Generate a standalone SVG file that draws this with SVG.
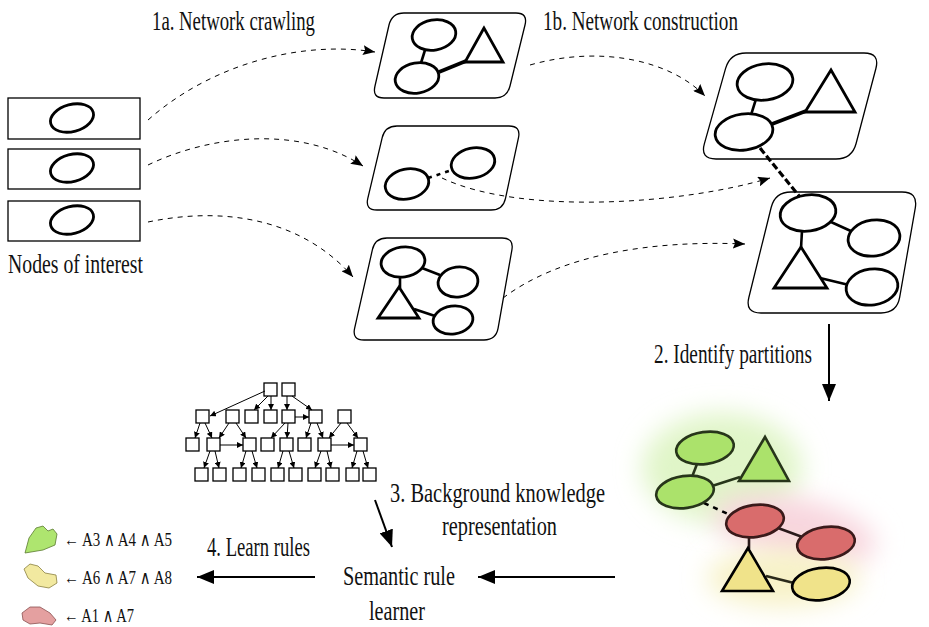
<svg xmlns="http://www.w3.org/2000/svg" width="929" height="627" viewBox="0 0 929 627">
<style>
.t{font-family:"Liberation Serif","DejaVu Serif",serif;font-size:27px;fill:#111}
.lg{font-family:"Liberation Serif","DejaVu Serif",serif;font-size:19px;fill:#111}
.card{fill:#fff;stroke:#000;stroke-width:1.3}
.nd{fill:#fff;stroke:#000;stroke-width:2.8}
.ln{stroke:#000;stroke-width:2.6;fill:none}
.lnb{stroke:#000;stroke-width:3.6;fill:none}
.dash{fill:none;stroke:#000;stroke-width:1;stroke-dasharray:5 5}
.box{fill:#fff;stroke:#000;stroke-width:1.3}
.ta{stroke:#000;stroke-width:1;fill:none;marker-end:url(#sm)}
.big{stroke:#000;stroke-width:2;fill:none;marker-end:url(#bg)}
.gn{fill:#abe26b;stroke:#27351a;stroke-width:2.6}
.rd{fill:#d96c6c;stroke:#3a1a1a;stroke-width:2.6}
.yl{fill:#f0e38a;stroke:#000;stroke-width:2.6}
</style>
<defs>
<marker id="dh" markerUnits="userSpaceOnUse" markerWidth="13" markerHeight="10" refX="12" refY="5" orient="auto"><path d="M0,0 L12,5 L0,10 L2,5 Z" fill="#000"/></marker>
<marker id="bg" markerUnits="userSpaceOnUse" markerWidth="18" markerHeight="14" refX="17" refY="7" orient="auto"><path d="M0,0 L17,7 L0,14 Z" fill="#000"/></marker>
<marker id="sm" markerUnits="userSpaceOnUse" markerWidth="7" markerHeight="6" refX="6" refY="3" orient="auto"><path d="M0,0 L6,3 L0,6 Z" fill="#000"/></marker>
<filter id="blur" x="-60%" y="-60%" width="220%" height="220%"><feGaussianBlur stdDeviation="13"/></filter>
</defs>

<g id="nodes-of-interest">
<rect class="box" x="8" y="98" width="132" height="41" stroke-width="2.5"/>
<ellipse class="nd" cx="72" cy="118" rx="22" ry="13.5" transform="rotate(-15 72 118)"/>
<rect class="box" x="8" y="149" width="132" height="40" stroke-width="2.5"/>
<ellipse class="nd" cx="72" cy="168" rx="22" ry="13.5" transform="rotate(-15 72 168)"/>
<rect class="box" x="8" y="201" width="132" height="40" stroke-width="2.5"/>
<ellipse class="nd" cx="72" cy="220" rx="22" ry="13.5" transform="rotate(-15 72 220)"/>
<text class="t" x="8" y="273" textLength="135" lengthAdjust="spacingAndGlyphs">Nodes of interest</text>
</g>

<g id="crawl-1">
<path class="card" d="M404,13 L516,13 Q528,13 525,25 L510,86 Q507,98 495,98 L384,98 Q372,98 375,86 L389,25 Q392,13 404,13 Z"/>
<line class="ln" x1="425" y1="50" x2="421" y2="63"/>
<line class="lnb" x1="439" y1="72" x2="466" y2="61"/>
<ellipse class="nd" cx="434" cy="35" rx="22" ry="15" transform="rotate(-10 434 35)"/>
<ellipse class="nd" cx="417" cy="78" rx="22" ry="15" transform="rotate(-10 417 78)"/>
<polygon class="nd" points="484,28 465,62 503,62"/>
</g>

<g id="crawl-2">
<path class="card" d="M397,126 L509,126 Q521,126 518.5,137.7 L505.5,198.3 Q503,210 491,210 L377,210 Q365,210 367.8,198.3 L382.2,137.7 Q385,126 397,126 Z"/>
<line x1="428" y1="178" x2="452" y2="170" stroke="#000" stroke-width="2.6" stroke-dasharray="4 5"/>
<ellipse class="nd" cx="407" cy="184" rx="22" ry="15" transform="rotate(-12 407 184)"/>
<ellipse class="nd" cx="473" cy="163" rx="22" ry="15" transform="rotate(-12 473 163)"/>
</g>

<g id="crawl-3">
<path class="card" d="M387,238 L502,238 Q514,238 511.9,249.8 L498.1,328.2 Q496,340 484,340 L364,340 Q352,340 354.6,328.3 L372.4,249.7 Q375,238 387,238 Z"/>
<line class="ln" x1="400" y1="276" x2="400" y2="288"/>
<line class="ln" x1="422" y1="268" x2="440" y2="275"/>
<line class="ln" x1="414" y1="309" x2="435" y2="316"/>
<ellipse class="nd" cx="403" cy="262" rx="22" ry="15" transform="rotate(-8 403 262)"/>
<ellipse class="nd" cx="458" cy="282" rx="20" ry="15" transform="rotate(-8 458 282)"/>
<ellipse class="nd" cx="453" cy="320" rx="20" ry="14" transform="rotate(-8 453 320)"/>
<polygon class="nd" points="399,287 378,318 419,318"/>
</g>

<g id="network-1">
<path class="card" d="M746,53 L864,53 Q880,53 875.9,68.5 L856.1,143.5 Q852,159 836,159 L716,159 Q700,159 704.4,143.6 L725.6,68.4 Q730,53 746,53 Z"/>
<line class="ln" x1="756" y1="99" x2="751" y2="115"/>
<line class="lnb" x1="772" y1="124" x2="806" y2="111"/>
<ellipse class="nd" cx="765" cy="82" rx="28" ry="18" transform="rotate(-8 765 82)"/>
<ellipse class="nd" cx="744" cy="132" rx="29" ry="18" transform="rotate(-8 744 132)"/>
<polygon class="nd" points="831,70 805,112 855,112"/>
</g>

<g id="network-2">
<path class="card" d="M791,192 L902,192 Q918,192 915.3,207.8 L899.7,297.2 Q897,313 881,313 L761,313 Q745,313 748.85,297.5 L771.15,207.5 Q775,192 791,192 Z"/>
<line class="ln" x1="802" y1="231" x2="801" y2="248"/>
<line class="ln" x1="831" y1="222" x2="853" y2="232"/>
<line class="ln" x1="820" y1="278" x2="849" y2="285"/>
<ellipse class="nd" cx="808" cy="213" rx="28" ry="18" transform="rotate(-8 808 213)"/>
<ellipse class="nd" cx="874" cy="238" rx="26" ry="18" transform="rotate(-8 874 238)"/>
<ellipse class="nd" cx="872" cy="287" rx="26" ry="18" transform="rotate(-8 872 287)"/>
<polygon class="nd" points="801,247 774,288 827,288"/>
</g>

<g id="partitions">
<ellipse cx="722" cy="468" rx="80" ry="55" fill="#e0f5c8" filter="url(#blur)"/>
<ellipse cx="795" cy="530" rx="82" ry="32" fill="#f8d6de" filter="url(#blur)" transform="rotate(12 795 530)"/>
<ellipse cx="783" cy="578" rx="76" ry="29" fill="#f7f2c8" filter="url(#blur)"/>
<line x1="697" y1="464" x2="692" y2="477" stroke="#27351a" stroke-width="2.6"/>
<line x1="712" y1="486" x2="740" y2="477" stroke="#27351a" stroke-width="2.6"/>
<line x1="704" y1="503" x2="728" y2="514" stroke="#000" stroke-width="2.6" stroke-dasharray="5 5"/>
<line x1="778" y1="528" x2="805" y2="538" stroke="#2a1a1a" stroke-width="2.6"/>
<line x1="749" y1="536" x2="749" y2="549" stroke="#2a1a1a" stroke-width="2.6"/>
<line x1="766" y1="576" x2="794" y2="583" stroke="#2a2a1a" stroke-width="2.6"/>
<ellipse class="gn" cx="705" cy="448" rx="29" ry="16" transform="rotate(-8 705 448)"/>
<ellipse class="gn" cx="685" cy="492" rx="29" ry="16" transform="rotate(-8 685 492)"/>
<polygon class="gn" points="765,437 739,481 789,481"/>
<ellipse class="rd" cx="755" cy="521" rx="29" ry="16" transform="rotate(-8 755 521)"/>
<ellipse class="rd" cx="826" cy="543" rx="29" ry="16" transform="rotate(-8 826 543)"/>
<polygon class="yl" points="748,548 722,591 773,591"/>
<ellipse class="yl" cx="821" cy="584" rx="29" ry="16" stroke="#2a2a1a" transform="rotate(-8 821 584)"/>
</g>

<g id="background-knowledge">
<g class="tree">
<rect class="box" x="264" y="383" width="13" height="13"/><rect class="box" x="282" y="383" width="13" height="13"/>
<rect class="box" x="196" y="410" width="13" height="13"/><rect class="box" x="226" y="410" width="13" height="13"/><rect class="box" x="245" y="410" width="13" height="13"/><rect class="box" x="264" y="410" width="13" height="13"/><rect class="box" x="282" y="410" width="13" height="13"/><rect class="box" x="309" y="410" width="13" height="13"/><rect class="box" x="338" y="410" width="13" height="13"/>
<rect class="box" x="186" y="438" width="13" height="13"/><rect class="box" x="207" y="438" width="13" height="13"/><rect class="box" x="243" y="438" width="13" height="13"/><rect class="box" x="261" y="438" width="13" height="13"/><rect class="box" x="280" y="438" width="13" height="13"/><rect class="box" x="298" y="438" width="13" height="13"/><rect class="box" x="318" y="438" width="13" height="13"/><rect class="box" x="354" y="438" width="13" height="13"/>
<rect class="box" x="195" y="468" width="13" height="13"/><rect class="box" x="213" y="468" width="13" height="13"/><rect class="box" x="233" y="468" width="13" height="13"/><rect class="box" x="252" y="468" width="13" height="13"/><rect class="box" x="271" y="468" width="13" height="13"/><rect class="box" x="289" y="468" width="13" height="13"/><rect class="box" x="308" y="468" width="13" height="13"/><rect class="box" x="326" y="468" width="13" height="13"/><rect class="box" x="346" y="468" width="13" height="13"/><rect class="box" x="363" y="468" width="13" height="13"/>
</g>
<g class="tree-arrows">
<line class="ta" x1="265" y1="391" x2="210" y2="416"/>
<line class="ta" x1="268" y1="396" x2="254" y2="410"/>
<line class="ta" x1="271" y1="396" x2="271" y2="410"/>
<line class="ta" x1="287" y1="396" x2="287" y2="410"/>
<line class="ta" x1="292" y1="396" x2="312" y2="410"/>
<line class="ta" x1="295" y1="417" x2="309" y2="417"/>
<line class="ta" x1="200" y1="423" x2="195" y2="438"/>
<line class="ta" x1="205" y1="423" x2="212" y2="438"/>
<line class="ta" x1="229" y1="423" x2="219" y2="438"/>
<line class="ta" x1="236" y1="423" x2="246" y2="438"/>
<line class="ta" x1="220" y1="445" x2="243" y2="445"/>
<line class="ta" x1="285" y1="423" x2="271" y2="438"/>
<line class="ta" x1="288" y1="423" x2="287" y2="438"/>
<line class="ta" x1="311" y1="423" x2="306" y2="438"/>
<line class="ta" x1="317" y1="423" x2="323" y2="438"/>
<line class="ta" x1="341" y1="423" x2="329" y2="438"/>
<line class="ta" x1="347" y1="423" x2="358" y2="438"/>
<line class="ta" x1="331" y1="445" x2="354" y2="445"/>
<line class="ta" x1="210" y1="451" x2="204" y2="468"/>
<line class="ta" x1="215" y1="451" x2="219" y2="468"/>
<line class="ta" x1="246" y1="451" x2="241" y2="468"/>
<line class="ta" x1="252" y1="451" x2="257" y2="468"/>
<line class="ta" x1="283" y1="451" x2="278" y2="468"/>
<line class="ta" x1="289" y1="451" x2="294" y2="468"/>
<line class="ta" x1="321" y1="451" x2="315" y2="468"/>
<line class="ta" x1="327" y1="451" x2="331" y2="468"/>
<line class="ta" x1="357" y1="451" x2="352" y2="468"/>
<line class="ta" x1="363" y1="451" x2="368" y2="468"/>
</g>
</g>

<g id="rule-learner">
<text class="t" x="343" y="585" textLength="112" lengthAdjust="spacingAndGlyphs">Semantic rule</text>
<text class="t" x="369" y="620" textLength="56" lengthAdjust="spacingAndGlyphs">learner</text>
</g>

<g id="rules">
<path d="M25,553 L29,538 L36,528 L43,526 L48,531 L53,529 L57,534 L55,545 L43,550 Z" fill="#aee56f" stroke="#5a7a30" stroke-width="0.8"/>
<text class="lg" x="64" y="546" textLength="108" lengthAdjust="spacingAndGlyphs">← A3 ∧ A4 ∧ A5</text>
<path d="M24,569 L30,564 L38,566 L45,573 L56,575 L57,583 L49,588 L38,586 L28,578 Z" fill="#f2e9a0" stroke="#8a8040" stroke-width="0.8"/>
<text class="lg" x="64" y="584" textLength="108" lengthAdjust="spacingAndGlyphs">← A6 ∧ A7 ∧ A8</text>
<path d="M22,613 L30,607 L40,607 L50,613 L56,620 L52,625 L40,623 L30,624 L23,620 Z" fill="#e4a0a0" stroke="#8a5050" stroke-width="0.8"/>
<text class="lg" x="64" y="622" textLength="70" lengthAdjust="spacingAndGlyphs">← A1 ∧ A7</text>
</g>

<g id="labels">
<text class="t" x="152" y="30" textLength="163" lengthAdjust="spacingAndGlyphs">1a. Network crawling</text>
<text class="t" x="543" y="30" textLength="195" lengthAdjust="spacingAndGlyphs">1b. Network construction</text>
<text class="t" x="654" y="363" textLength="158" lengthAdjust="spacingAndGlyphs">2. Identify partitions</text>
<text class="t" x="390" y="502" textLength="215" lengthAdjust="spacingAndGlyphs">3. Background knowledge</text>
<text class="t" x="442" y="535" textLength="115" lengthAdjust="spacingAndGlyphs">representation</text>
<text class="t" x="207" y="556" textLength="103" lengthAdjust="spacingAndGlyphs">4. Learn rules</text>
</g>

<g id="connectors">
<path class="dash" d="M148,120 C210,65 300,40 375,52" marker-end="url(#dh)"/>
<path class="dash" d="M148,165 C210,135 300,125 363,166" marker-end="url(#dh)"/>
<path class="dash" d="M148,222 C230,205 305,222 353,277" marker-end="url(#dh)"/>
<path class="dash" d="M530,65 C600,45 670,60 705,96" marker-end="url(#dh)"/>
<path class="dash" d="M442,178 C520,215 680,205 770,178" marker-end="url(#dh)"/>
<path class="dash" d="M503,298 C560,255 650,240 745,244" marker-end="url(#dh)"/>
<line x1="760" y1="148" x2="800" y2="197" stroke="#000" stroke-width="3.2" stroke-dasharray="7 3"/>
<line class="big" x1="829" y1="324" x2="829" y2="401" stroke-width="2.4"/>
<line class="big" x1="375" y1="500" x2="392" y2="547"/>
<line class="big" x1="615" y1="577" x2="478" y2="577"/>
<line class="big" x1="315" y1="577" x2="197" y2="577"/>
</g>
</svg>
